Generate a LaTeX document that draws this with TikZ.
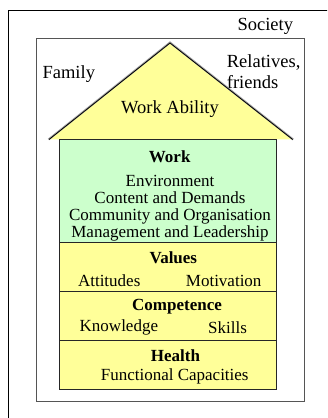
\documentclass[tikz,border=0pt]{standalone}
\usepackage{fontspec}
\setmainfont{Liberation Serif}
\usepackage{tikz}
\usetikzlibrary{positioning}
\definecolor{RoofYellow}{HTML}{FFFF99}
\definecolor{WorkGreen}{HTML}{CCFFCC}
\definecolor{FrameGray}{HTML}{555555}

\tikzset{
  floor/.style={draw=black!85, line width=0.8pt},
  bigtext/.style={inner sep=0pt, font=\fontsize{18.5}{21.7}\selectfont},
  boxtext/.style={inner sep=0pt, font=\fontsize{17}{16.9}\selectfont},
  boxtitle/.style={inner sep=0pt, font=\fontsize{17}{17}\selectfont\bfseries}
}

\begin{document}
\begin{tikzpicture}[x=1pt,y=1pt]
    \useasboundingbox (0,0) rectangle (327,418);
    \clip (0,0) rectangle (327,418);

    % frames
    \draw[black, line width=0.8pt] (8,-10) rectangle (340,408);
    \draw[FrameGray, line width=0.8pt] (36.7,16.3) rectangle (304,379.3);
    \node[bigtext] (society) at (265.3,392) {Society};
    \node[bigtext] (family) at (68.8,344) {Family};
    \node[bigtext, align=left, anchor=west] (relatives) at (226.7,346.2) {Relatives,\\friends};

    % roof
    \fill[RoofYellow] (49,278.5) -- (170,375) -- (292.7,278.5) -- cycle;
    \draw[gray!70, line width=2pt] (48.5,278.5) -- (170,375.5) -- (293.2,278.5);
    \draw[black, line width=0.8pt] (49,278.5) -- (170,375) -- (292.7,278.5);
    \node[bigtext] (ability) at (170,309) {Work Ability};

    % floors
    \draw[floor, fill=WorkGreen] (59.7,175.3) rectangle (276.3,278.5);
    \draw[floor, fill=RoofYellow] (59.7,127) rectangle (276.3,175.3);
    \draw[floor, fill=RoofYellow] (59.7,77.7) rectangle (276.3,127);
    \draw[floor, fill=RoofYellow] (59.7,28.7) rectangle (276.3,77.7);

    \node[boxtitle] (work) at (169.7,261) {Work};
    \node[boxtext, align=center] (worklist) at (170,210.1) {Environment\\Content and Demands\\Community and Organisation\\Management and Leadership};

    \node[boxtitle] (values) at (173.3,160.3) {Values};
    \node[boxtext] (attitudes) at (109.2,137.3) {Attitudes};
    \node[boxtext] (motivation) at (223.7,137.3) {Motivation};

    \node[boxtitle] (competence) at (177,111.3) {Competence};
    \node[boxtext] (knowledge) at (118.9,90.3) {Knowledge};
    \node[boxtext] (skills) at (227.5,90.3) {Skills};

    \node[boxtitle] (health) at (175.5,62) {Health};
    \node[boxtext] (functional) at (174.7,41.3) {Functional Capacities};
\end{tikzpicture}
\end{document}
